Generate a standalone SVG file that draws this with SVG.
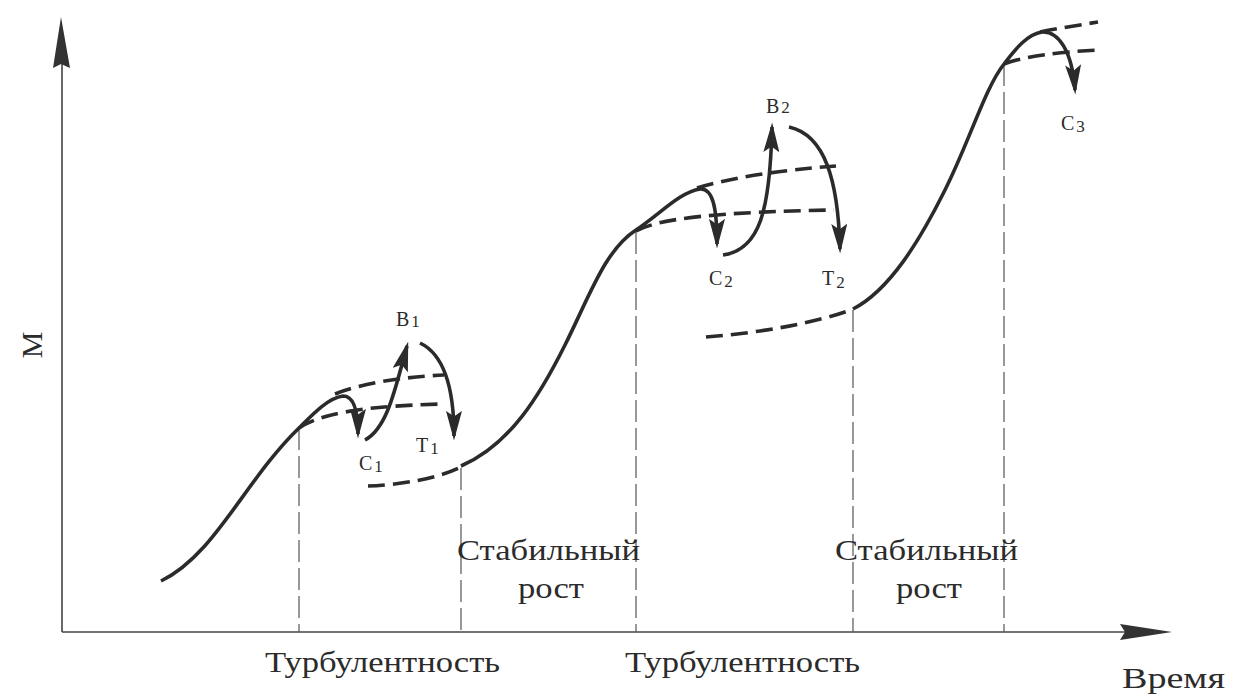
<svg xmlns="http://www.w3.org/2000/svg" width="1233" height="699" viewBox="0 0 1233 699">
<style>
.curve{fill:none;stroke:#2b2b2b;stroke-width:3.6;stroke-linecap:butt}
.dash{fill:none;stroke:#2b2b2b;stroke-width:3.6;stroke-dasharray:17 8}
.guide{fill:none;stroke:#555;stroke-width:1.2;stroke-dasharray:22 6}
.axis{fill:none;stroke:#444;stroke-width:1.6}
.lbl{fill:#2b2b2b}
.small{font-size:20px}
.sub{font-size:17px}
.big{font-size:30px}
</style>
<defs>
<marker id="ah" markerUnits="userSpaceOnUse" markerWidth="30" markerHeight="16" viewBox="0 0 26 14" refX="22" refY="7" orient="auto">
<path d="M0,0 L26,7 L0,14 L5,7 Z" fill="#2b2b2b"/>
</marker>
</defs>
<rect width="1233" height="699" fill="#fff"/>
<g id="axes">
<line class="axis" x1="62" y1="632" x2="62" y2="60"/>
<polygon points="61,17 70,68 61,64 53,68" fill="#333"/>
<line class="axis" x1="62" y1="632" x2="1128" y2="632"/>
<polygon points="1172,632 1120,624 1125,632 1120,640" fill="#333"/>
</g>
<g id="guides">
<line class="guide" x1="299" y1="428" x2="299" y2="632"/>
<line class="guide" x1="461" y1="468" x2="461" y2="632"/>
<line class="guide" x1="636" y1="232" x2="636" y2="632"/>
<line class="guide" x1="853" y1="310" x2="853" y2="632"/>
<line class="guide" x1="1004" y1="64" x2="1004" y2="632"/>
</g>
<g id="connectors">
<path class="curve" d="M161,581 C215,555 245,480 299,428 C313,414 328,398 343,396 C354,396 358,412 358,434" marker-end="url(#ah)"/>
<path class="dash" d="M299,428 C320,414 360,406 444,404"/>
<path class="dash" d="M335,394 C360,384 400,377 444,375"/>
<path class="curve" d="M365,440 C388,428 396,385 407,346" marker-end="url(#ah)"/>
<path class="curve" d="M420,343 C445,355 454,390 454,436" marker-end="url(#ah)"/>
<path class="dash" d="M368,486 C400,485 440,478 461,467"/>
<path class="curve" d="M461,466 C510,445 540,395 565,345 C590,295 605,250 636,230 C660,214 680,192 700,189 C712,188 717,205 717,244" marker-end="url(#ah)"/>
<path class="dash" d="M636,231 C660,218 720,212 834,210"/>
<path class="dash" d="M697,188 C730,178 780,170 836,166"/>
<path class="curve" d="M723,255 C760,250 770,210 772,127" marker-end="url(#ah)"/>
<path class="curve" d="M789,127 C825,135 838,180 840,249" marker-end="url(#ah)"/>
<path class="dash" d="M706,337 C760,333 820,322 853,309"/>
<path class="curve" d="M853,309 C890,290 920,240 945,190 C970,140 985,88 1004,64 C1016,48 1028,34 1042,32 C1058,31 1072,50 1075,90" marker-end="url(#ah)"/>
<path class="dash" d="M1004,64 C1025,56 1060,52 1098,50"/>
<path class="dash" d="M1040,32 C1060,28 1080,25 1098,22"/>
</g>
<g id="labels" font-family="'Liberation Serif', 'Times New Roman', 'DejaVu Serif', serif">
<text class="lbl small" x="396" y="326">В<tspan class="sub" dx="2" dy="1">1</tspan></text>
<text class="lbl small" x="359" y="470">С<tspan class="sub" dx="2" dy="2">1</tspan></text>
<text class="lbl small" x="416" y="452">Т<tspan class="sub" dx="2" dy="2">1</tspan></text>
<text class="lbl small" x="766" y="113">В<tspan class="sub" dx="2" dy="0">2</tspan></text>
<text class="lbl small" x="709" y="285">С<tspan class="sub" dx="2" dy="2">2</tspan></text>
<text class="lbl small" x="822" y="285">Т<tspan class="sub" dx="2" dy="3">2</tspan></text>
<text class="lbl small" x="1061" y="130">С<tspan class="sub" dx="2" dy="2">3</tspan></text>
<text class="lbl big" transform="translate(42,345) rotate(-90)" text-anchor="middle">М</text>
<text class="lbl big" x="1122" y="688" textLength="103" lengthAdjust="spacingAndGlyphs">Время</text>
<text class="lbl big" x="265" y="672" textLength="235" lengthAdjust="spacingAndGlyphs">Турбулентность</text>
<text class="lbl big" x="625" y="672" textLength="235" lengthAdjust="spacingAndGlyphs">Турбулентность</text>
<text class="lbl big" x="457" y="560" textLength="183" lengthAdjust="spacingAndGlyphs">Стабильный</text>
<text class="lbl big" x="518" y="598" textLength="66" lengthAdjust="spacingAndGlyphs">рост</text>
<text class="lbl big" x="835" y="560" textLength="183" lengthAdjust="spacingAndGlyphs">Стабильный</text>
<text class="lbl big" x="896" y="598" textLength="66" lengthAdjust="spacingAndGlyphs">рост</text>
</g>
</svg>
